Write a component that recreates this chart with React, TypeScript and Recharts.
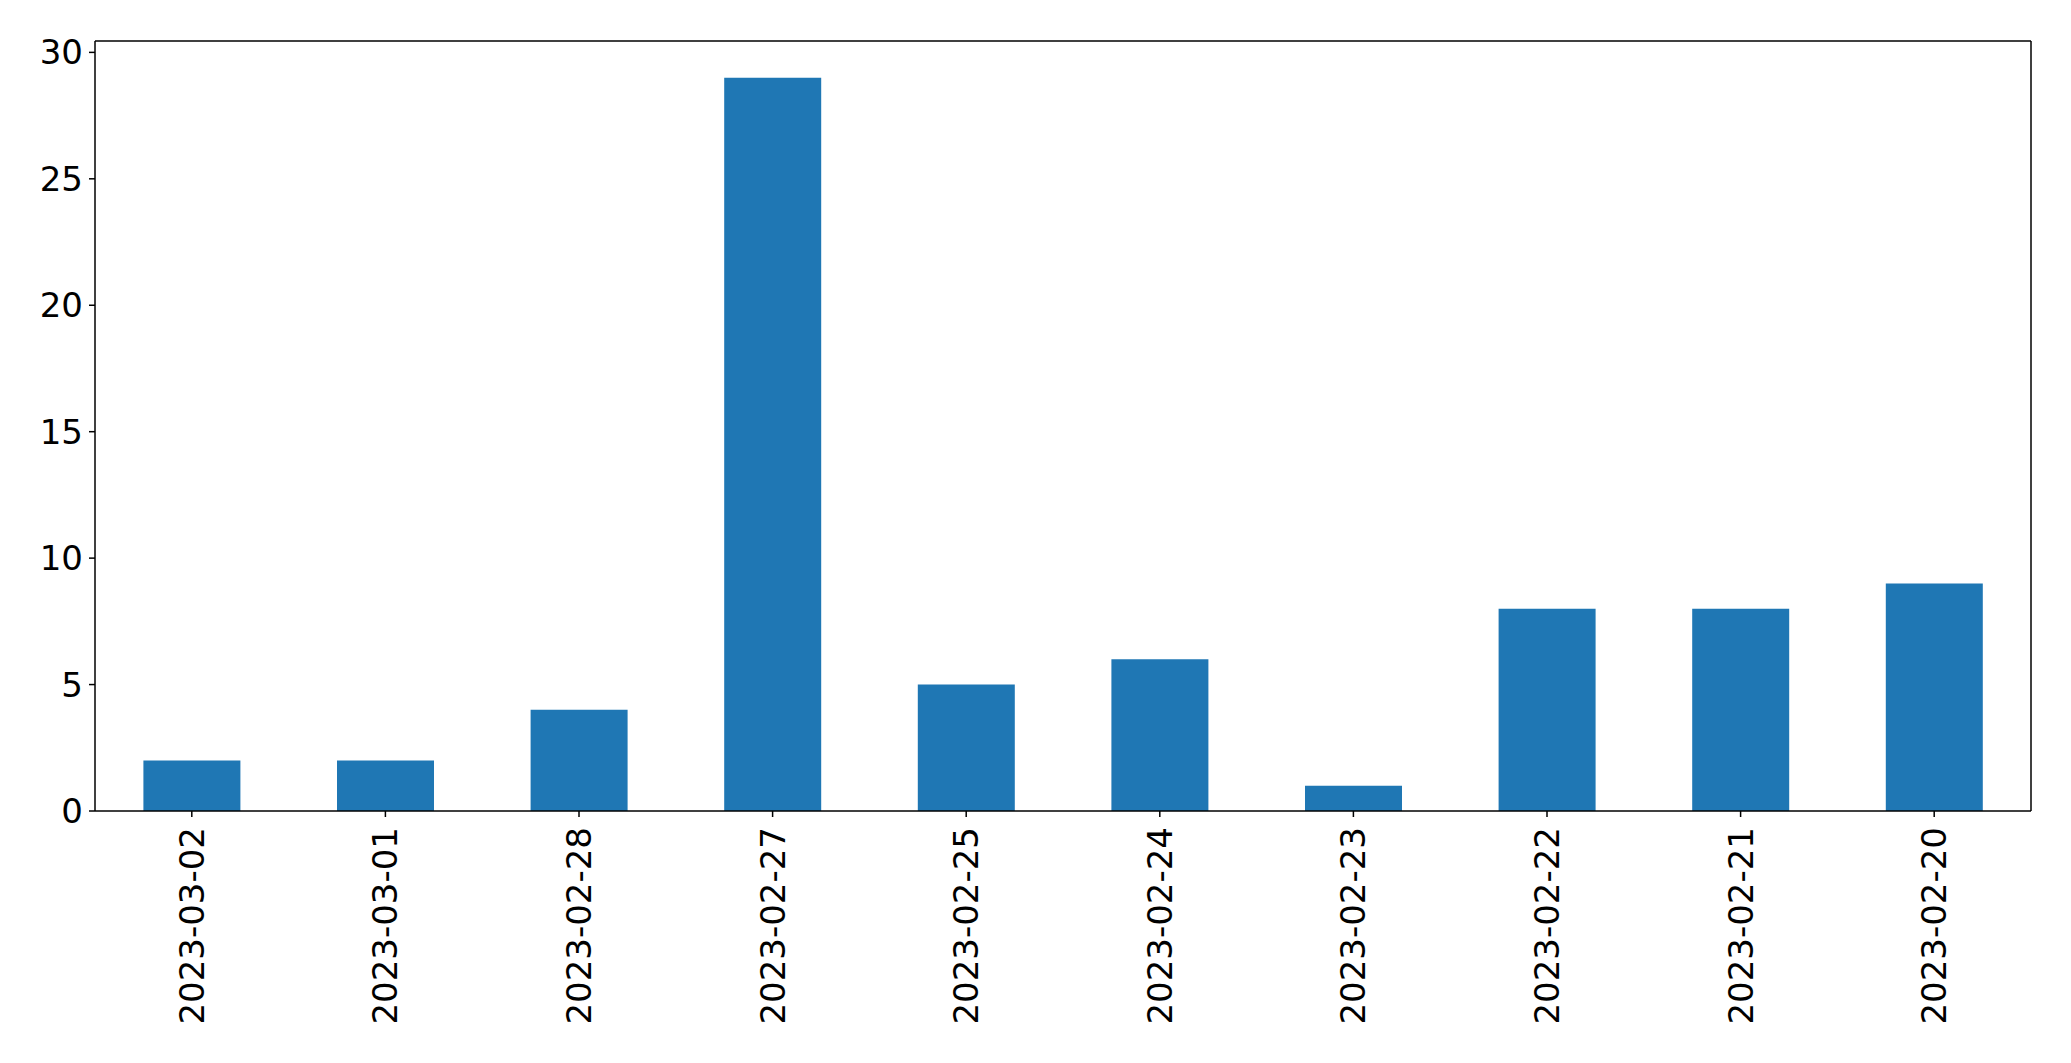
import React from "react"
import { BarChart, Bar, XAxis, YAxis, ReferenceLine } from "recharts"

const dates = [
  "2023-03-02",
  "2023-03-01",
  "2023-02-28",
  "2023-02-27",
  "2023-02-25",
  "2023-02-24",
  "2023-02-23",
  "2023-02-22",
  "2023-02-21",
  "2023-02-20",
]
const counts = [2, 2, 4, 29, 5, 6, 1, 8, 8, 9]
const yTicks = [0, 5, 10, 15, 20, 25, 30]
const yMax = 30.45

const data = dates.map((date, i) => ({ date, count: counts[i] }))

const font = "DejaVu Sans, sans-serif"
const frame = { stroke: "#000", strokeWidth: 1.5 }

function DateTick(props: any) {
  const { x, y, payload } = props
  return (
    <g transform={`translate(${x},${y + 8})`}>
      <text
        transform="rotate(-90)"
        textAnchor="end"
        dominantBaseline="central"
        fontFamily={font}
        fontSize={34}
        fill="#000"
      >
        {payload.value}
      </text>
    </g>
  )
}

export default function App() {
  return (
    <div style={{ position: "absolute", left: 0, top: 0, background: "#fff" }}>
      <BarChart
        width={2071}
        height={1063}
        data={data}
        margin={{ top: 41, right: 40, left: 0, bottom: 0 }}
        barCategoryGap="25%"
      >
        <XAxis
          dataKey="date"
          height={252}
          interval={0}
          tick={<DateTick />}
          tickSize={6}
          axisLine={frame}
          tickLine={frame}
        />
        <YAxis
          width={95}
          domain={[0, yMax]}
          ticks={yTicks}
          tickSize={6}
          tickMargin={6}
          allowDataOverflow
          tick={{ fontFamily: font, fontSize: 34, fill: "#000" }}
          axisLine={frame}
          tickLine={frame}
        />
        <Bar dataKey="count" fill="#1f77b4" isAnimationActive={false} />
        <ReferenceLine y={yMax} stroke="#000" strokeWidth={1.5} />
        <ReferenceLine x={dates[dates.length - 1]} position="end" stroke="#000" strokeWidth={1.5} />
      </BarChart>
    </div>
  )
}
